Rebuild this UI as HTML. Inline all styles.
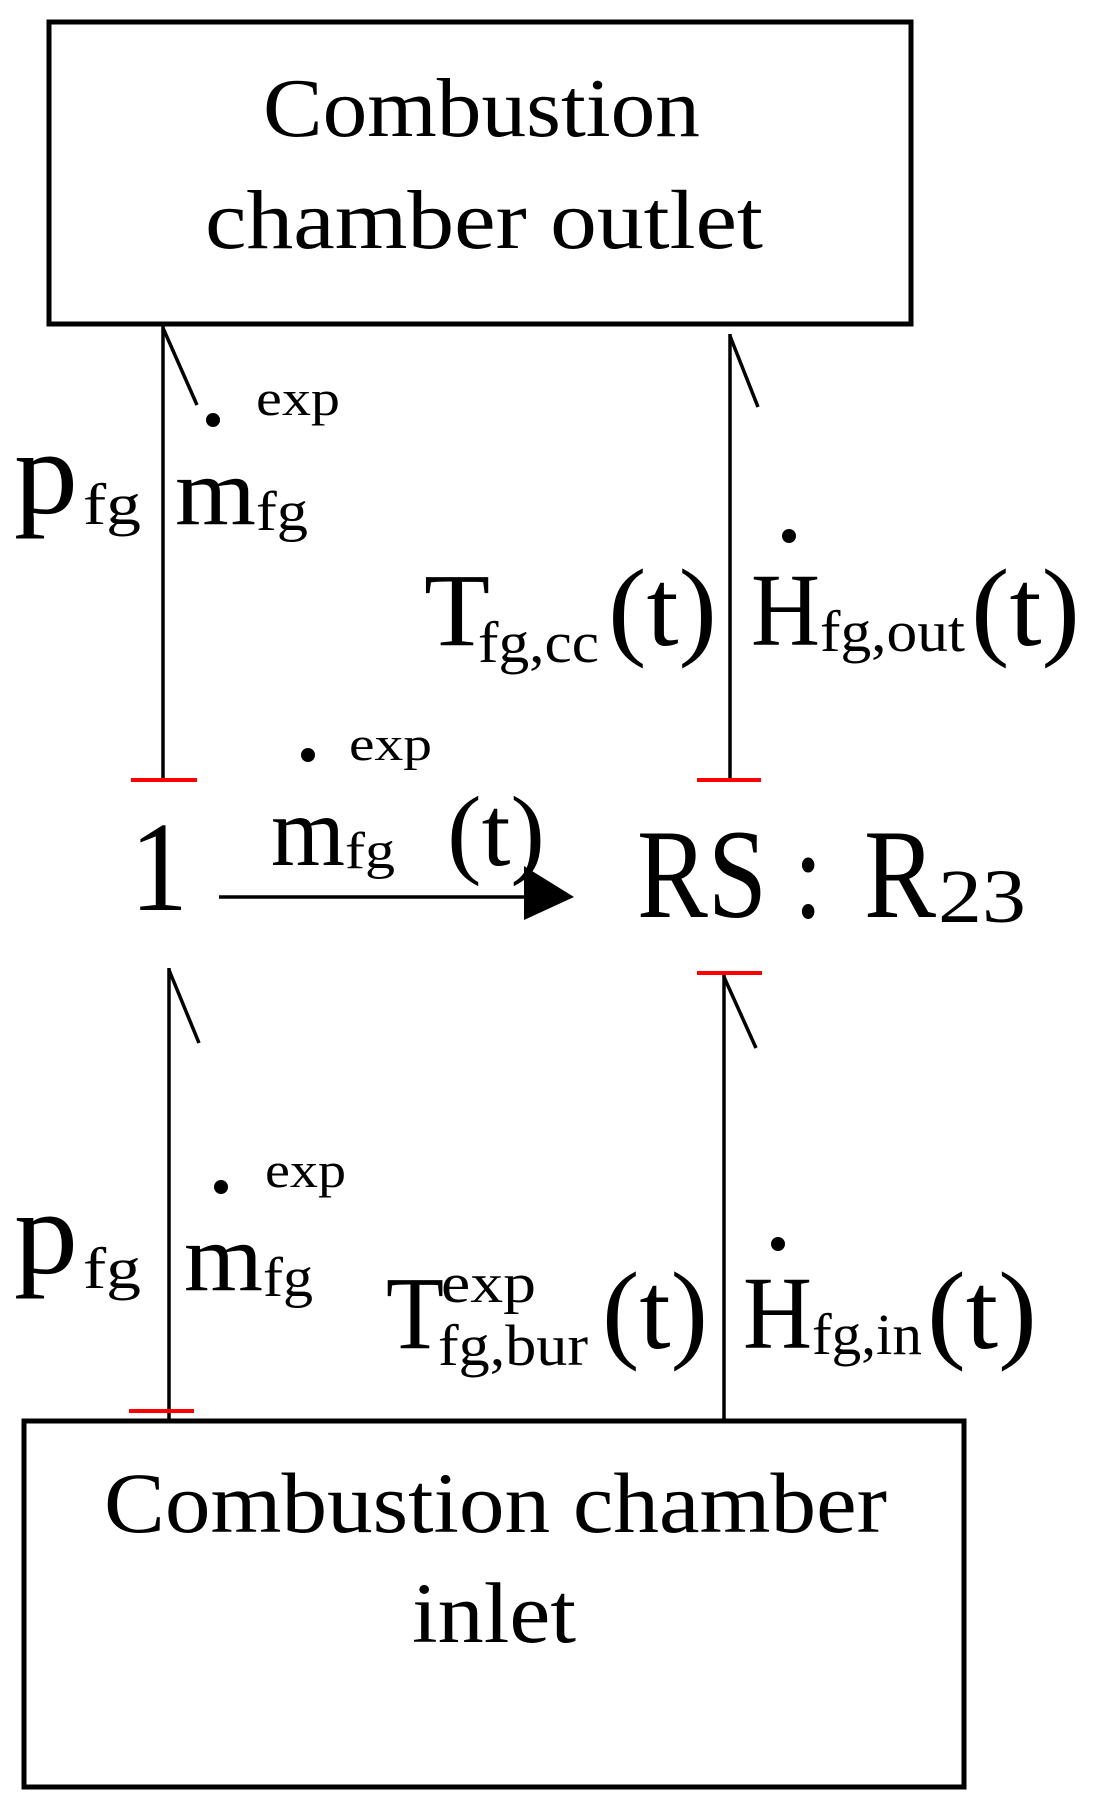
<!DOCTYPE html>
<html><head><meta charset="utf-8"><style>
html,body{margin:0;padding:0;background:#fff;width:1094px;height:1808px;overflow:hidden}
svg{display:block}
text{font-family:"Liberation Serif",serif;fill:#000}
</style></head><body>
<svg width="1094" height="1808" viewBox="0 0 1094 1808">
<rect x="49" y="22" width="862" height="302" fill="none" stroke="#000" stroke-width="5"/>
<rect x="24" y="1421" width="940" height="366" fill="none" stroke="#000" stroke-width="5"/>
<text x="263" y="136" font-size="84" textLength="437" lengthAdjust="spacingAndGlyphs">Combustion</text>
<text x="205" y="248" font-size="84" textLength="558" lengthAdjust="spacingAndGlyphs">chamber outlet</text>
<text x="104" y="1532" font-size="86" textLength="783" lengthAdjust="spacingAndGlyphs">Combustion chamber</text>
<text x="412" y="1642" font-size="86" textLength="164" lengthAdjust="spacingAndGlyphs">inlet</text>
<g stroke="#000" stroke-width="3.5" fill="none">
<line x1="163" y1="326" x2="163" y2="780"/><line x1="163" y1="328" x2="197" y2="405"/>
<line x1="730" y1="334" x2="730" y2="780"/><line x1="730" y1="336" x2="758" y2="407"/>
<line x1="169" y1="968" x2="169" y2="1421"/><line x1="169" y1="970" x2="199" y2="1043"/>
<line x1="724" y1="975" x2="724" y2="1421"/><line x1="724" y1="977" x2="756" y2="1048"/>
<line x1="219" y1="897" x2="530" y2="897"/>
</g>
<polygon points="524,866 574,897 524,920" fill="#000"/>
<g stroke="#f00" stroke-width="4">
<line x1="131" y1="780" x2="197" y2="780"/>
<line x1="697" y1="780" x2="761" y2="780"/>
<line x1="697" y1="973" x2="762" y2="973"/>
<line x1="129" y1="1411" x2="194" y2="1411"/>
</g>
<text x="130" y="910" font-size="128" textLength="58" lengthAdjust="spacingAndGlyphs">1</text>
<text x="637" y="917" font-size="127" textLength="186" lengthAdjust="spacingAndGlyphs">RS :</text>
<text x="864" y="917" font-size="127" textLength="72" lengthAdjust="spacingAndGlyphs">R</text>
<text x="938" y="922" font-size="76" textLength="88" lengthAdjust="spacingAndGlyphs">23</text>
<circle cx="308" cy="755" r="7"/>
<text x="349" y="760" font-size="48" textLength="83" lengthAdjust="spacingAndGlyphs">exp</text>
<text x="271" y="865" font-size="100" textLength="74" lengthAdjust="spacingAndGlyphs">m</text>
<text x="345" y="868" font-size="52" textLength="50" lengthAdjust="spacingAndGlyphs">fg</text>
<text x="447" y="865" font-size="100" textLength="98" lengthAdjust="spacingAndGlyphs">(t)</text>
<text x="14" y="513" font-size="120" textLength="64" lengthAdjust="spacingAndGlyphs">p</text>
<text x="83" y="524" font-size="58" textLength="58" lengthAdjust="spacingAndGlyphs">fg</text>
<circle cx="213" cy="420" r="7"/>
<text x="256" y="415" font-size="50" textLength="84" lengthAdjust="spacingAndGlyphs">exp</text>
<text x="175" y="524" font-size="96" textLength="81" lengthAdjust="spacingAndGlyphs">m</text>
<text x="256" y="530" font-size="56" textLength="52" lengthAdjust="spacingAndGlyphs">fg</text>
<text x="424" y="645" font-size="104" textLength="66" lengthAdjust="spacingAndGlyphs">T</text>
<text x="478" y="662" font-size="58" textLength="121" lengthAdjust="spacingAndGlyphs">fg,cc</text>
<text x="608" y="645" font-size="110" textLength="109" lengthAdjust="spacingAndGlyphs">(t)</text>
<circle cx="789" cy="536" r="7"/>
<text x="751" y="645" font-size="104" textLength="69" lengthAdjust="spacingAndGlyphs">H</text>
<text x="820" y="651" font-size="58" textLength="145" lengthAdjust="spacingAndGlyphs">fg,out</text>
<text x="971" y="645" font-size="110" textLength="109" lengthAdjust="spacingAndGlyphs">(t)</text>
<text x="14" y="1273" font-size="120" textLength="64" lengthAdjust="spacingAndGlyphs">p</text>
<text x="83" y="1288" font-size="58" textLength="58" lengthAdjust="spacingAndGlyphs">fg</text>
<circle cx="221" cy="1187" r="7"/>
<text x="265" y="1187" font-size="50" textLength="81" lengthAdjust="spacingAndGlyphs">exp</text>
<text x="184" y="1290" font-size="96" textLength="79" lengthAdjust="spacingAndGlyphs">m</text>
<text x="263" y="1296" font-size="56" textLength="50" lengthAdjust="spacingAndGlyphs">fg</text>
<text x="386" y="1348" font-size="104" textLength="58" lengthAdjust="spacingAndGlyphs">T</text>
<text x="441" y="1302" font-size="56" textLength="95" lengthAdjust="spacingAndGlyphs">exp</text>
<text x="438" y="1365" font-size="58" textLength="150" lengthAdjust="spacingAndGlyphs">fg,bur</text>
<text x="602" y="1348" font-size="110" textLength="106" lengthAdjust="spacingAndGlyphs">(t)</text>
<circle cx="778" cy="1244" r="7"/>
<text x="743" y="1348" font-size="104" textLength="69" lengthAdjust="spacingAndGlyphs">H</text>
<text x="812" y="1354" font-size="58" textLength="110" lengthAdjust="spacingAndGlyphs">fg,in</text>
<text x="927" y="1348" font-size="110" textLength="110" lengthAdjust="spacingAndGlyphs">(t)</text>
</svg>
</body></html>
